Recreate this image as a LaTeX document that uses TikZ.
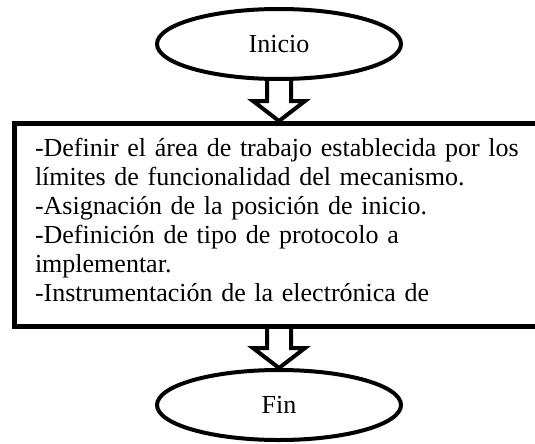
\documentclass[tikz,border=0pt]{standalone}
\usepackage{fontspec}
\setmainfont{Liberation Serif}
\usetikzlibrary{positioning,calc,shapes.geometric}

% hollow block arrow between two anchors
\newcommand{\flecha}[2]{%
  \draw[hueca] ($(#1)+(-12pt,0pt)$) -- ($(#2)+(-12pt,20pt)$) -- ($(#2)+(-26pt,20pt)$)
    -- (#2) -- ($(#2)+(26pt,20pt)$) -- ($(#2)+(12pt,20pt)$) -- ($(#1)+(12pt,0pt)$);}

\begin{document}
\begin{tikzpicture}[font=\fontsize{26pt}{29pt}\selectfont,
  terminal/.style={draw,ellipse,line width=4pt,minimum width=244pt,minimum height=70pt},
  caja/.style={draw,rectangle,line width=5pt,text width=488pt,align=left,
    inner xsep=21pt,inner ysep=0pt,text height=33pt,text depth=170pt},
  hueca/.style={line width=4pt,fill=white,line join=miter}]
\useasboundingbox (0,0) rectangle (535pt,-444pt);
\node[terminal] (inicio) at (279pt,-44pt)        {Inicio};
\node[caja]     (pasos)  [below=40pt of inicio]  {-Definir el área de trabajo establecida por los\\
  límites de funcionalidad del mecanismo.\\
  -Asignación de la posición de inicio.\\
  -Definición de tipo de protocolo a\\
  implementar.\\
  -Instrumentación de la electrónica de};
\node[terminal] (fin)    [below=39pt of pasos]   {Fin};
\flecha{inicio.south}{pasos.north}
\flecha{pasos.south}{fin.north}
\end{tikzpicture}
\end{document}
